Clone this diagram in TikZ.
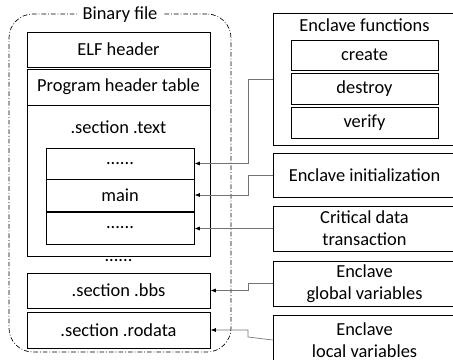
\documentclass[tikz,border=0pt]{standalone}
\usepackage{fontspec}
\setmainfont{Carlito}
\usetikzlibrary{arrows.meta,fit}
\begin{document}
\begin{tikzpicture}[x=0.75pt,y=-0.75pt,
  box/.style={draw=black,line width=0.7pt,inner sep=0pt,align=center,
    font=\fontsize{13.8}{16.5}\selectfont},
  wide/.style={box,minimum width=137.25pt},
  narrow/.style={box,minimum width=111pt},
  lbl/.style={inner sep=1pt,font=\fontsize{13.8}{16.5}\selectfont},
  conn/.style={draw=black!55,line width=0.5pt,-{Latex[length=4pt,width=3pt,color=black]}},
  outline/.style={draw=black,line width=0.5pt,dash pattern=on 3.5pt off 1.5pt on 0.6pt off 1.5pt,rounded corners=18pt}]
\clip (0,0) rectangle (453,360);
% binary file outline
\node[outline,fit={(9,14) (231,352)},inner sep=0pt] (bin) {};
\node[lbl,fill=white,inner xsep=4pt] (binlbl) at (120,15) {Binary file};
% left boxes
\node[wide,minimum height=26.25pt] (elf) at (118.5,49.5) {ELF header};
\node[wide,minimum height=27pt] (pht) at (118.5,87) {Program header table};
\node[wide,minimum height=113.25pt] (txt) at (118.5,180.5) {};
\node[lbl] (txtlbl) at (118.5,127) {.section .text};
\node[narrow,minimum height=23.25pt] (d1) at (120,163.5) {......};
\node[narrow,minimum height=24pt] (mainb) at (120,195) {main};
\node[narrow,minimum height=24pt] (d3) at (120,228) {......};
\node[lbl] (dots) at (118.5,261) {......};
\node[wide,minimum height=26.25pt] (bbs) at (118.5,290.5) {.section .bbs};
\node[wide,minimum height=27pt] (rod) at (118.5,330) {.section .rodata};
% right boxes
\node[wide,minimum height=99pt] (ef) at (364.5,79) {};
\node[lbl] (eflbl) at (364.5,25) {Enclave functions};
\node[box,minimum width=110.25pt,minimum height=22.5pt] (cr) at (364.5,55) {create};
\node[box,minimum width=110.25pt,minimum height=23.25pt] (de) at (364.5,88.5) {destroy};
\node[box,minimum width=110.25pt,minimum height=23.25pt] (ve) at (364.5,122.5) {verify};
\node[wide,minimum height=33pt] (ei) at (364.5,175) {Enclave initialization};
\node[wide,minimum height=33.75pt] (cd) at (364.5,228.5) {Critical data\\transaction};
\node[wide,minimum height=33.75pt] (gv) at (364.5,283.5) {Enclave\\global variables};
\node[wide,minimum height=37.5pt] (lv) at (364.5,340) {Enclave\\local variables};
% connectors
\draw[conn] (ef.west) -- (248,79) |- (d1.east);
\draw[conn] (ei.west) -- (248,175) |- (mainb.east);
\draw[conn] (cd.west) -- (cd.west -| d3.east);
\draw[conn] (gv.west) -- (248,283.5) |- (bbs.east);
\draw[conn] (lv.west) -- (248,337) |- (rod.east);
\end{tikzpicture}
\end{document}
